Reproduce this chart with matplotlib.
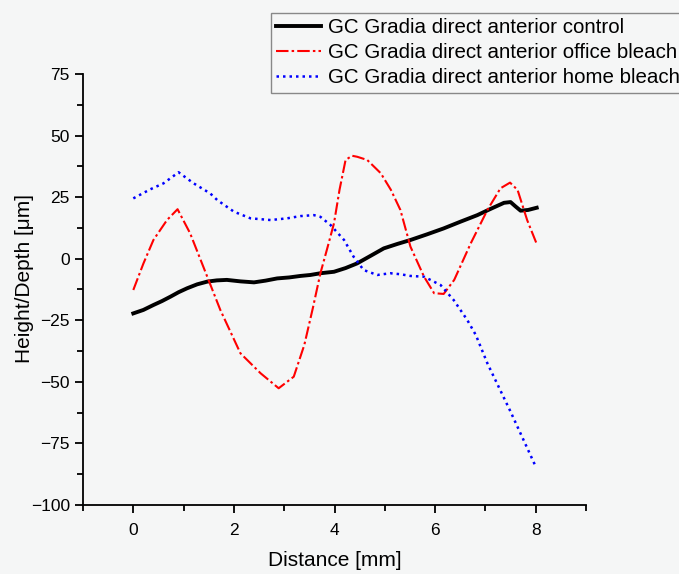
import numpy as np
import matplotlib.pyplot as plt

plt.rcParams['font.family'] = ['Liberation Sans', 'DejaVu Sans']

# profile data (distance in mm, height in um)
x_control = [0.0, 0.2, 0.4, 0.57, 0.74, 0.9, 1.07, 1.27, 1.47, 1.66, 1.86, 2.13, 2.4, 2.63, 2.86, 3.1, 3.32, 3.52, 3.72,
             3.99, 4.22, 4.45, 4.72, 4.98, 5.25, 5.51, 5.84, 6.17, 6.5, 6.84, 7.1, 7.37, 7.5, 7.6, 7.7, 7.85, 8.02]
y_control = [-22.2, -20.8, -18.8, -17.2, -15.4, -13.6, -12.0, -10.4, -9.3, -8.8, -8.6, -9.2, -9.6, -8.9, -8.0, -7.6, -7.0, -6.6, -5.9,
             -5.3, -3.8, -1.9, 1.2, 4.2, 6.0, 7.6, 9.9, 12.3, 15.0, 17.7, 20.2, 22.7, 23.0, 21.2, 19.5, 19.8, 20.7]

x_office = [0.0, 0.2, 0.4, 0.67, 0.88, 1.13, 1.47, 1.73, 2.13, 2.53, 2.89, 3.19, 3.4, 3.57, 3.72, 3.86, 3.99, 4.1, 4.22, 4.35, 4.45,
            4.65, 4.92, 5.12, 5.31, 5.51, 5.78, 5.98, 6.17, 6.38, 6.71, 7.04, 7.3, 7.49, 7.64, 7.83, 8.02]
y_office = [-12.7, -2.0, 7.6, 15.7, 20.1, 10.3, -7.3, -20.8, -38.4, -46.5, -52.6, -47.9, -35.0, -20.0, -5.9, 4.5, 14.4, 28.0, 40.1, 41.8, 41.4,
            40.1, 34.7, 28.0, 19.8, 4.9, -7.3, -14.0, -14.3, -8.6, 6.3, 19.8, 28.6, 30.9, 27.9, 15.7, 6.0]

x_home = [0.0, 0.34, 0.6, 0.9, 1.2, 1.53, 1.67, 2.0, 2.33, 2.73, 3.06, 3.32, 3.59, 3.72, 3.92, 4.19, 4.38, 4.58, 4.85,
          5.11, 5.31, 5.51, 5.78, 6.11, 6.37, 6.64, 6.81, 7.04, 7.5, 8.0]
y_home = [24.5, 28.2, 30.6, 35.1, 30.6, 26.5, 23.8, 19.1, 16.4, 15.7, 16.4, 17.3, 17.7, 17.0, 13.7, 7.6, 0.8, -4.6, -6.6,
          -5.9, -6.3, -7.0, -7.3, -10.7, -16.8, -24.9, -31.0, -42.5, -62.1, -84.4]

labels = ["GC Gradia direct anterior control",
          "GC Gradia direct anterior office bleach",
          "GC Gradia direct anterior home bleach"]

bg = '#f5f6f6'
fig = plt.figure(figsize=(6.79, 5.74), dpi=100, facecolor=bg)
ax = fig.add_axes([83/679, 1-505/574, (586-83)/679, (505-74)/574], facecolor=bg)

ax.plot(x_control, y_control, color='black', lw=2.8, label=labels[0])
ax.plot(x_office, y_office, color='red', lw=1.5, linestyle=(0, (6, 1.5, 1.2, 1.5)), label=labels[1])
ax.plot(x_home, y_home, color='blue', lw=1.8, linestyle=(0, (1, 1.6)), label=labels[2])

ax.set_xlim(-1, 9)
ax.set_ylim(-100, 75)
ax.set_xticks([0, 2, 4, 6, 8])
ax.set_xticks([-1, 1, 3, 5, 7, 9], minor=True)
ax.set_yticks([-100, -75, -50, -25, 0, 25, 50, 75])
ax.set_yticks(np.arange(-87.5, 75, 25), minor=True)
for s in ['top', 'right']:
    ax.spines[s].set_visible(False)
for s in ['left', 'bottom']:
    ax.spines[s].set_linewidth(1.3)
ax.tick_params(which='major', length=6, width=1.3, labelsize=12.5, direction='out')
ax.tick_params(axis='x', which='major', pad=7)
ax.tick_params(which='minor', length=4, width=1.3, direction='out')

ax.set_xlabel("Distance [mm]", fontsize=15, labelpad=9)
ax.set_ylabel("Height/Depth [\u03bcm]", fontsize=15)
ax.yaxis.set_label_coords(-0.097, 0.525)

fig.legend(loc='upper left', bbox_to_anchor=(271/679, 1-13/574), fontsize=14.8,
           frameon=True, fancybox=False, edgecolor='#888888', facecolor=bg,
           framealpha=1, borderpad=0.25, labelspacing=0.3, handlelength=2.2,
           handletextpad=0.3, borderaxespad=0)

fig.savefig("out.png", dpi=100, facecolor=bg)
